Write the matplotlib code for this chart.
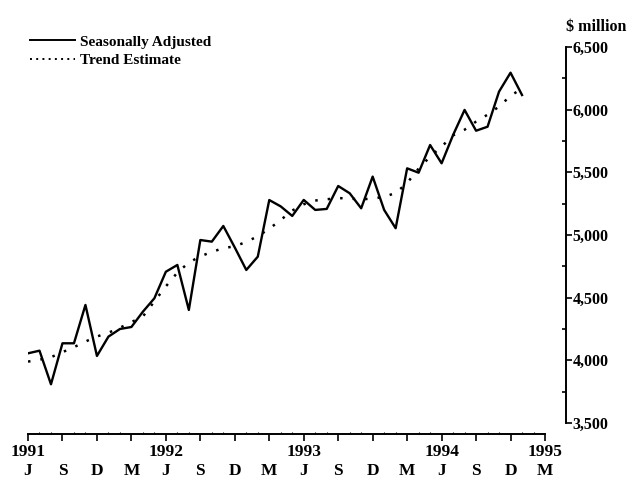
import numpy as np
import matplotlib
matplotlib.use("Agg")
from matplotlib import pyplot as plt
from matplotlib.lines import Line2D
from matplotlib.ticker import FuncFormatter, MultipleLocator

plt.rcParams['font.family'] = ['Liberation Serif', 'DejaVu Serif']
plt.rcParams['font.weight'] = 'bold'

# monthly, June 1991 .. January 1995 ($ million)
seasonally_adjusted = [4056, 4077, 3809, 4136, 4136, 4442, 4035, 4189, 4250, 4266, 4388, 4495,
                       4707, 4761, 4402, 4960, 4947, 5072, 4900, 4721, 4827, 5279, 5228, 5152,
                       5280, 5200, 5208, 5391, 5333, 5213, 5466, 5200, 5054, 5532, 5497, 5718,
                       5572, 5798, 5998, 5832, 5864, 6144, 6295, 6117]
trend_estimate = [3990, 4005, 4025, 4065, 4105, 4150, 4190, 4220, 4260, 4305, 4350, 4470,
                  4590, 4700, 4780, 4830, 4865, 4895, 4910, 4945, 4990, 5050, 5120, 5195,
                  5245, 5275, 5285, 5295, 5290, 5285, 5290, 5305, 5335, 5415, 5530, 5625,
                  5705, 5795, 5840, 5905, 5960, 6025, 6110, 6170]
months = np.arange(len(seasonally_adjusted))

# quarterly ticks, June 1991 .. March 1995
tick_months = ["J", "S", "D", "M"] * 4
year_labels = {0: "1991", 4: "1992", 8: "1993", 12: "1994", 15: "1995"}

W, H = 634, 491
fig = plt.figure(figsize=(W / 100, H / 100), dpi=100)
ax = fig.add_axes([28 / W, 1 - 423 / H, 517 / W, 376 / H])

ax.plot(months, seasonally_adjusted, color='black', lw=1.7)
ax.plot(months, trend_estimate, color='black', lw=1.8, linestyle=(0, (1, 4)))

ax.set_xlim(0, 45)
ax.set_ylim(3500, 6500)

for s in ['left', 'top']:
    ax.spines[s].set_visible(False)
ax.spines['bottom'].set_position(('outward', 8))
ax.spines['right'].set_position(('outward', 15))
ax.spines['bottom'].set_linewidth(1.4)
ax.spines['right'].set_linewidth(1.4)

ax.yaxis.tick_right()
ax.yaxis.set_major_locator(MultipleLocator(500))
ax.yaxis.set_minor_locator(MultipleLocator(250))
ax.yaxis.set_major_formatter(FuncFormatter(lambda v, p: "{:,.0f}".format(v)))
ax.tick_params(axis='y', which='major', direction='out', length=4, width=1.2, pad=1, labelsize=11.5)
ax.tick_params(axis='y', which='minor', direction='in', length=3, width=1.2)

ticks = np.arange(0, 46, 3)
labels = []
for i, m in enumerate(tick_months):
    labels.append(year_labels.get(i, "") + "\n" + m)
ax.set_xticks(ticks)
ax.set_xticklabels(labels, fontsize=12.5, linespacing=1.25)
ax.xaxis.set_minor_locator(MultipleLocator(1))
ax.tick_params(axis='x', which='major', direction='out', length=5, width=1.2, pad=2)
ax.tick_params(axis='x', which='minor', direction='in', length=1.5, width=0.8)

# legend
handles = [Line2D([], [], color='black', lw=1.4),
           Line2D([], [], color='black', lw=1.4, linestyle=(0, (1, 2.2)))]
fig.legend(handles, ["Seasonally Adjusted", "Trend Estimate"],
           loc='upper left', bbox_to_anchor=(30 / W, 1 - 35 / H), bbox_transform=fig.transFigure,
           frameon=False, fontsize=11, handlelength=2.95, handletextpad=0.33, labelspacing=0.3,
           borderpad=0, borderaxespad=0)

fig.text(566 / W, 1 - 27 / H, "$ million", ha='left', va='center', fontsize=11.5)

plt.savefig('out.png', dpi=100)
